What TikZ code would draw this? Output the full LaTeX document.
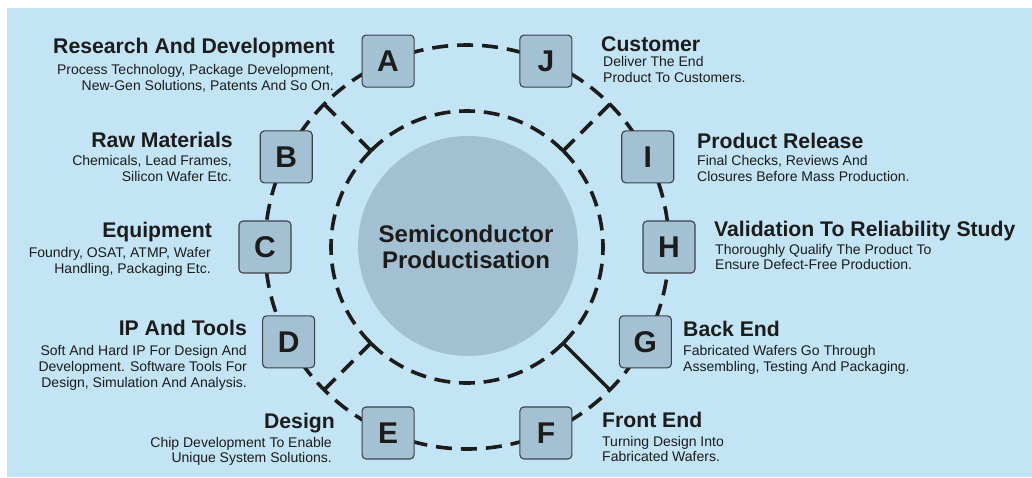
\documentclass[tikz,border=0pt]{standalone}
\usepackage{fontspec}
\setmainfont{Liberation Sans}
\usetikzlibrary{backgrounds}

\definecolor{bgblue}{HTML}{C2E4F4}
\definecolor{tileblue}{HTML}{A4C1D3}
\definecolor{hubblue}{HTML}{A3C0D2}
\definecolor{ink}{HTML}{1C1C1C}
\definecolor{tileedge}{HTML}{3C4248}

\begin{document}
\begin{tikzpicture}[x=1pt,y=1pt,
  letterbox/.style={draw=tileedge, line width=1.1pt, fill=tileblue, rounded corners=4pt,
    minimum width=52pt, minimum height=52pt, inner sep=0pt,
    font=\fontsize{30}{30}\selectfont\bfseries, text=ink},
  ring/.style={draw=ink, line width=3.6pt, dash pattern=on 16pt off 9pt},
  innerring/.style={draw=ink, line width=3.6pt, dash pattern=on 15.9pt off 8.8pt},
  solidspoke/.style={draw=ink, line width=3.4pt},
  head/.style={font=\fontsize{21.2}{24}\selectfont\bfseries, text=ink, inner sep=0pt},
  body/.style={font=\fontsize{14}{16}\selectfont, text=ink, inner sep=0pt},
  hubtext/.style={font=\fontsize{24}{26}\selectfont\bfseries, text=ink, inner sep=0pt, anchor=base},
]
\useasboundingbox (0,0) rectangle (1032,-477);

% ---- ring of stages, centred on the hub ----
\begin{scope}[shift={(467,-247)}]
  \node[circle, fill=hubblue, minimum size=220pt, inner sep=0pt] (hub) at (1,1) {};

  \node[letterbox] (H) at (0:202)     {H};
  \node[letterbox] (I) at (26.5:202)  {I};
  \node[letterbox] (J) at (67:202)    {J};
  \node[letterbox] (A) at (113:202)   {A};
  \node[letterbox] (B) at (153.5:202) {B};
  \node[letterbox] (C) at (180:202)   {C};
  \node[letterbox] (D) at (208:202)   {D};
  \node[letterbox] (E) at (247:202)   {E};
  \node[letterbox] (F) at (293:202)   {F};
  \node[letterbox] (G) at (332:202)   {G};

  % spoke end points on the outer and inner rings
  \coordinate (o45)  at (45:202);   \coordinate (i45)  at (45:136);
  \coordinate (o135) at (135:202);  \coordinate (i135) at (135:136);
  \coordinate (o225) at (225:202);  \coordinate (i225) at (225:136);
  \coordinate (o315) at (315:202);  \coordinate (i315) at (315:136);
\end{scope}

\node[hubtext] (hubA) at (466,-242) {Semiconductor};
\node[hubtext] (hubB) at (466,-268) {Productisation};

\begin{scope}[on background layer]
  \fill[white] (0,0) rectangle (1032,-477);
  \fill[bgblue] (7,-8) rectangle (1032,-477);

  % outer dashed ring, stage to stage
  \draw[ring] (H.center) arc[start angle=0,     end angle=26.5,  radius=202];
  \draw[ring] (I.center) arc[start angle=26.5,  end angle=67,    radius=202];
  \draw[ring] (J.center) arc[start angle=67,    end angle=113,   radius=202];
  \draw[ring] (A.center) arc[start angle=113,   end angle=153.5, radius=202];
  \draw[ring] (B.center) arc[start angle=153.5, end angle=180,   radius=202];
  \draw[ring] (C.center) arc[start angle=180,   end angle=208,   radius=202];
  \draw[ring] (D.center) arc[start angle=208,   end angle=247,   radius=202];
  \draw[ring] (E.center) arc[start angle=247,   end angle=293,   radius=202];
  \draw[ring] (F.center) arc[start angle=293,   end angle=332,   radius=202];
  \draw[ring] (G.center) arc[start angle=332,   end angle=360,   radius=202];

  % inner dashed ring, in quarters starting at the spokes
  \draw[innerring] (i45)  arc[start angle=45,  end angle=135, radius=136];
  \draw[innerring] (i135) arc[start angle=135, end angle=225, radius=136];
  \draw[innerring] (i225) arc[start angle=225, end angle=315, radius=136];
  \draw[innerring] (i315) arc[start angle=315, end angle=405, radius=136];

  % spokes between the rings
  \draw[ring] (o45)  -- (i45);
  \draw[ring] (o135) -- (i135);
  \draw[ring] (o225) -- (i225);
  \draw[solidspoke] (o315) -- (i315);
\end{scope}

% ---- left column labels ----
\node[head, anchor=base east] (tA)  at (335,-53)    {Research And Development};
\node[body, anchor=base east] (sA1) at (334,-74)    {Process Technology, Package Development,};
\node[body, anchor=base east] (sA2) at (334,-90)    {New-Gen Solutions, Patents And So On.};

\node[head, anchor=base east] (tB)  at (233,-147.5) {Raw Materials};
\node[body, anchor=base east] (sB1) at (232,-165)   {Chemicals, Lead Frames,};
\node[body, anchor=base east] (sB2) at (232,-181)   {Silicon Wafer Etc.};

\node[head, anchor=base east] (tC)  at (212,-237)   {Equipment};
\node[body, anchor=base east] (sC1) at (211,-257)   {Foundry, OSAT, ATMP, Wafer};
\node[body, anchor=base east] (sC2) at (211,-273)   {Handling, Packaging Etc.};

\node[head, anchor=base east] (tD)  at (247,-335)   {IP And Tools};
\node[body, anchor=base east] (sD1) at (247,-355.5) {Soft And Hard IP For Design And};
\node[body, anchor=base east] (sD2) at (247,-371.5) {Development. Software Tools For};
\node[body, anchor=base east] (sD3) at (247,-387)   {Design, Simulation And Analysis.};

\node[head, anchor=base east] (tE)  at (335,-428)   {Design};
\node[body, anchor=base east] (sE1) at (332,-447)   {Chip Development To Enable};
\node[body, anchor=base east] (sE2) at (332,-462.5) {Unique System Solutions.};

% ---- right column labels ----
\node[head, anchor=base west] (tJ)  at (601,-51)    {Customer};
\node[body, anchor=base west] (sJ1) at (603,-66)    {Deliver The End};
\node[body, anchor=base west] (sJ2) at (603,-82)    {Product To Customers.};

\node[head, anchor=base west] (tI)  at (697,-148)   {Product Release};
\node[body, anchor=base west] (sI1) at (697,-165.5) {Final Checks, Reviews And};
\node[body, anchor=base west] (sI2) at (697,-181)   {Closures Before Mass Production.};

\node[head, anchor=base west] (tH)  at (714,-236)   {Validation To Reliability Study};
\node[body, anchor=base west] (sH1) at (715,-254)   {Thoroughly Qualify The Product To};
\node[body, anchor=base west] (sH2) at (715,-269)   {Ensure Defect-Free Production.};

\node[head, anchor=base west] (tG)  at (683,-336.5) {Back End};
\node[body, anchor=base west] (sG1) at (683,-355.5) {Fabricated Wafers Go Through};
\node[body, anchor=base west] (sG2) at (683,-371)   {Assembling, Testing And Packaging.};

\node[head, anchor=base west] (tF)  at (602,-427.3) {Front End};
\node[body, anchor=base west] (sF1) at (602,-446.7) {Turning Design Into};
\node[body, anchor=base west] (sF2) at (602,-461.7) {Fabricated Wafers.};
\end{tikzpicture}
\end{document}
